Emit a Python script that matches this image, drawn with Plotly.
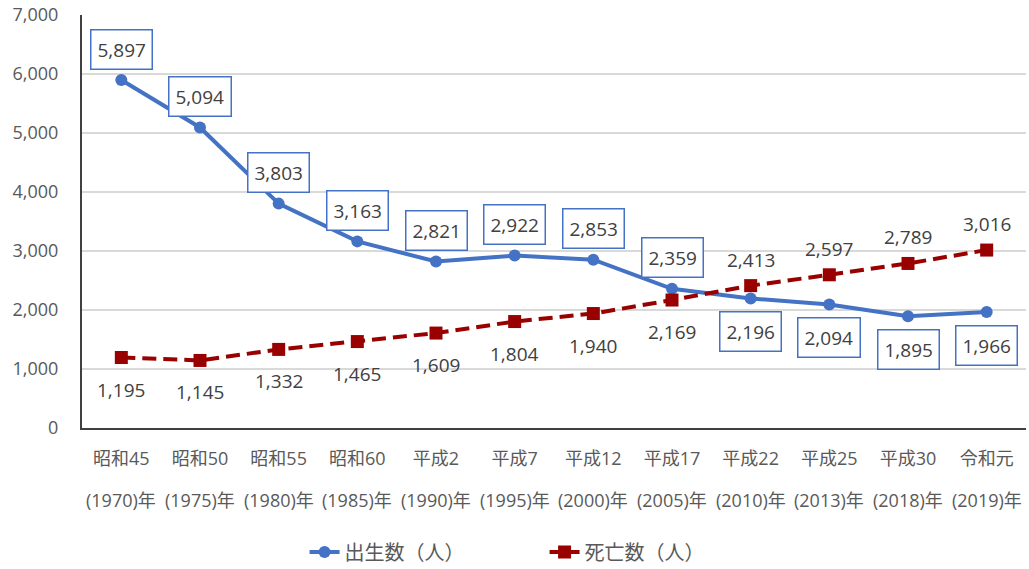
import plotly.graph_objects as go

eras = ["昭和45", "昭和50", "昭和55", "昭和60", "平成2", "平成7", "平成12",
        "平成17", "平成22", "平成25", "平成30", "令和元"]
years = ["(1970)年", "(1975)年", "(1980)年", "(1985)年", "(1990)年", "(1995)年",
         "(2000)年", "(2005)年", "(2010)年", "(2013)年", "(2018)年", "(2019)年"]
births = [5897, 5094, 3803, 3163, 2821, 2922, 2853, 2359, 2196, 2094, 1895, 1966]
deaths = [1195, 1145, 1332, 1465, 1609, 1804, 1940, 2169, 2413, 2597, 2789, 3016]

# label placement (style): +1 above, -1 below
birth_side = [1, 1, 1, 1, 1, 1, 1, 1, -1, -1, -1, -1]
death_side = [-1, -1, -1, -1, -1, -1, -1, -1, 1, 1, 1, 1]

FONT = "Open Sans, Noto Sans CJK JP, sans-serif"
BLUE = "#4472C4"
RED = "#990000"
TXT = "#404040"
GRAY = "#595959"

fig = go.Figure()
fig.add_trace(go.Scatter(
    x=eras, y=births, name="出生数（人）", mode="lines+markers",
    line=dict(color=BLUE, width=4), marker=dict(symbol="circle", size=12, color=BLUE)))
fig.add_trace(go.Scatter(
    x=eras, y=deaths, name="死亡数（人）", mode="lines+markers",
    line=dict(color=RED, width=4, dash="14px,7px"), marker=dict(symbol="square", size=13, color=RED)))

ann = []
for e, v, s in zip(eras, births, birth_side):
    ann.append(dict(x=e, y=v, xref="x", yref="y", text=f"{v:,}", showarrow=False,
                    yshift=31 if s > 0 else -33, font=dict(family=FONT, size=19, color=TXT),
                    bordercolor=BLUE, borderwidth=1.5, borderpad=6, bgcolor="white"))
for e, v, s in zip(eras, deaths, death_side):
    ann.append(dict(x=e, y=v, xref="x", yref="y", text=f"{v:,}", showarrow=False,
                    yshift=26 if s > 0 else -32, font=dict(family=FONT, size=19, color=TXT)))
for e, yr in zip(eras, years):
    ann.append(dict(x=e, y=0, xref="x", yref="paper", text=yr, showarrow=False,
                    yanchor="middle", yshift=-72, font=dict(family=FONT, size=18, color=GRAY)))

fig.update_layout(
    width=1029, height=569,
    margin=dict(l=82, r=3, t=15, b=141, autoexpand=False),
    paper_bgcolor="white", plot_bgcolor="white",
    font=dict(family=FONT, color=GRAY),
    showlegend=True,
    legend=dict(orientation="h", x=0.49, xanchor="center", y=-0.30, yanchor="middle",
                font=dict(family=FONT, size=20, color=GRAY), itemwidth=30,
                entrywidth=195, tracegroupgap=0),
    annotations=ann,
)
fig.update_xaxes(
    type="category", showgrid=False, showline=True, linecolor="#404040", linewidth=2,
    ticks="", tickfont=dict(family=FONT, size=18, color=GRAY), ticklabelstandoff=13,
    range=[-0.5, 11.5], automargin=False)
fig.update_yaxes(
    range=[0, 7000], dtick=1000, tickformat=",", showgrid=True, gridcolor="#d9d9d9",
    gridwidth=1.5, showline=True, linecolor="#404040", linewidth=2, zeroline=False,
    ticks="", tickfont=dict(family=FONT, size=18, color=GRAY), ticklabelstandoff=18,
    automargin=False)

fig.write_html("out.html", config={"displayModeBar": False},
               post_script="document.body.style.margin='0';")
